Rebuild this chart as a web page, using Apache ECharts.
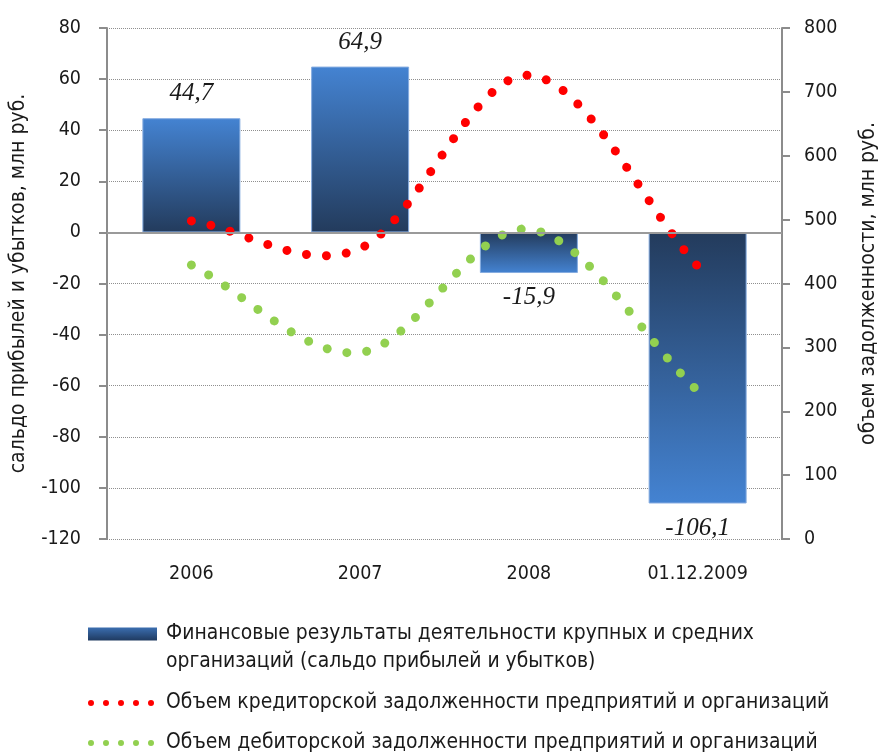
<!DOCTYPE html>
<html lang="ru">
<head>
    <meta charset="UTF-8" />
    <title>Финансовые результаты</title>
    <style>
        html, body { margin: 0; padding: 0; background: #fff; }
    </style>
</head>
<body>
<div id="main" style="width: 887px; height: 753px;"></div>
<script src="https://cdn.jsdelivr.net/npm/echarts@6/dist/echarts.min.js"></script>
<script type="text/javascript">
    // данные диаграммы
    var categories = ['2006', '2007', '2008', '01.12.2009'];
    var saldo = [44.7, 64.9, -15.9, -106.1];
    var kreditor = [498, 455, 726, 427];
    var debitor = [429, 292, 485, 232];

    var nameBar = 'Финансовые результаты деятельности крупных и средних организаций (сальдо прибылей и убытков)';
    var nameRed = 'Объем кредиторской задолженности предприятий и организаций';
    var nameGreen = 'Объем дебиторской задолженности предприятий и организаций';

    var font = 'DejaVu Sans Condensed';
    var light = '#4483d2', dark = '#233b5c';

    function grad(a, b) {
        return new echarts.graphic.LinearGradient(0, 0, 0, 1, [
            {offset: 0, color: a}, {offset: 1, color: b}
        ]);
    }

    var barData = saldo.map(function (v) {
        var pos = v >= 0;
        return {
            value: v,
            itemStyle: {color: pos ? grad(light, dark) : grad(dark, light)},
            label: {position: pos ? 'top' : 'bottom'}
        };
    });

    // сглаженная линия как в Excel (Catmull-Rom), точки берутся через api.coord
    function smoothRender(values, color) {
        return function (params, api) {
            if (params.dataIndex !== 0) return;
            var p = values.map(function (v, i) { return api.coord([i, v]); });
            var n = p.length;
            function pt(i) {
                if (i < 0) return [2 * p[0][0] - p[1][0], 2 * p[0][1] - p[1][1]];
                if (i >= n) return [2 * p[n - 1][0] - p[n - 2][0], 2 * p[n - 1][1] - p[n - 2][1]];
                return p[i];
            }
            var d = 'M' + p[0][0] + ',' + p[0][1];
            for (var i = 0; i < n - 1; i++) {
                var a = pt(i - 1), b = p[i], c = p[i + 1], e = pt(i + 2);
                var c1 = [b[0] + (c[0] - a[0]) / 6, b[1] + (c[1] - a[1]) / 6];
                var c2 = [c[0] - (e[0] - b[0]) / 6, c[1] - (e[1] - b[1]) / 6];
                d += 'C' + c1[0] + ',' + c1[1] + ' ' + c2[0] + ',' + c2[1] + ' ' + c[0] + ',' + c[1];
            }
            return {
                type: 'path',
                shape: {pathData: d},
                style: {fill: null, stroke: color, lineWidth: 9, lineDash: [0.01, 20], lineCap: 'round'}
            };
        };
    }

    var dots = 'path://M0,3a3,3 0 1,0 6,0a3,3 0 1,0 -6,0zM15,3a3,3 0 1,0 6,0a3,3 0 1,0 -6,0zM30,3a3,3 0 1,0 6,0a3,3 0 1,0 -6,0zM45,3a3,3 0 1,0 6,0a3,3 0 1,0 -6,0zM60,3a3,3 0 1,0 6,0a3,3 0 1,0 -6,0z';

    var myChart = echarts.init(document.getElementById('main'));

    var legendText = {fontFamily: font, fontSize: 20.9, color: '#1a1a1a', lineHeight: 28};

    var option = {
        animation: false,
        grid: {left: 106, right: 101, top: 28, bottom: 214},
        legend: [{
            left: 83, top: 587, orient: 'vertical',
            icon: 'rect', itemWidth: 69, itemHeight: 13,
            data: [nameBar],
            // пустая первая строка, чтобы значок стоял у первой строки текста
            formatter: function (n) {
                return '\nФинансовые результаты деятельности крупных и средних\nорганизаций (сальдо прибылей и убытков)';
            },
            itemStyle: {borderWidth: 0},
            textStyle: Object.assign({padding: [0, 0, 0, 4]}, legendText)
        }, {
            left: 83, top: 684, orient: 'vertical',
            itemWidth: 66, itemHeight: 6,
            data: [{name: nameRed, icon: dots}],
            textStyle: Object.assign({padding: [0, 0, 0, 7]}, legendText)
        }, {
            left: 83, top: 724, orient: 'vertical',
            itemWidth: 66, itemHeight: 6,
            data: [{name: nameGreen, icon: dots}],
            textStyle: Object.assign({padding: [0, 0, 0, 7]}, legendText)
        }],
        xAxis: {
            type: 'category',
            data: categories,
            axisLine: {show: false, onZero: false},
            axisTick: {show: false},
            axisLabel: {margin: 25, fontFamily: font, fontSize: 19.5, color: '#1a1a1a'}
        },
        yAxis: [{
            type: 'value',
            min: -120, max: 80, interval: 20,
            name: 'сальдо прибылей и убытков, млн руб.',
            nameLocation: 'middle', nameGap: 78, nameRotate: 90,
            nameTextStyle: {fontFamily: font, fontSize: 21, color: '#1a1a1a'},
            axisLine: {show: true, lineStyle: {color: '#8c8c8c', width: 2}},
            axisTick: {show: true, length: 8, lineStyle: {color: '#8c8c8c', width: 2}},
            axisLabel: {margin: 26, fontFamily: font, fontSize: 19.5, color: '#1a1a1a'},
            splitLine: {lineStyle: {type: 'dotted', color: '#8f8f8f', width: 1}}
        }, {
            type: 'value',
            min: 0, max: 800, interval: 100,
            name: 'объем задолженности, млн руб.',
            nameLocation: 'middle', nameGap: 76, nameRotate: 90,
            nameTextStyle: {fontFamily: font, fontSize: 21, color: '#1a1a1a'},
            axisLine: {show: true, lineStyle: {color: '#8c8c8c', width: 2}},
            axisTick: {show: true, length: 8, lineStyle: {color: '#8c8c8c', width: 2}},
            axisLabel: {margin: 22, fontFamily: font, fontSize: 19.5, color: '#1a1a1a'},
            splitLine: {show: false}
        }],
        series: [{
            name: nameBar,
            type: 'bar',
            barWidth: 98,
            data: barData,
            itemStyle: {color: grad('#3b6eb0', '#1f3a60'), borderColor: '#86ace0', borderWidth: 1},
            label: {
                show: true,
                distance: 12,
                fontFamily: 'Liberation Serif',
                fontStyle: 'italic',
                fontSize: 25,
                color: '#1a1a1a',
                formatter: function (p) { return String(p.value).replace('.', ','); }
            },
            markLine: {
                silent: true,
                symbol: 'none',
                label: {show: false},
                lineStyle: {type: 'solid', color: '#9a9a9a', width: 2},
                data: [{yAxis: 0}]
            }
        }, {
            name: nameRed,
            type: 'custom',
            yAxisIndex: 1,
            color: '#ff0000',
            itemStyle: {color: '#ff0000'},
            renderItem: smoothRender(kreditor, '#ff0000'),
            data: kreditor.map(function (v, i) { return [i, v]; }),
            z: 3
        }, {
            name: nameGreen,
            type: 'custom',
            yAxisIndex: 1,
            color: '#92d050',
            itemStyle: {color: '#92d050'},
            renderItem: smoothRender(debitor, '#92d050'),
            data: debitor.map(function (v, i) { return [i, v]; }),
            z: 3
        }]
    };

    myChart.setOption(option);
</script>
</body>
</html>
